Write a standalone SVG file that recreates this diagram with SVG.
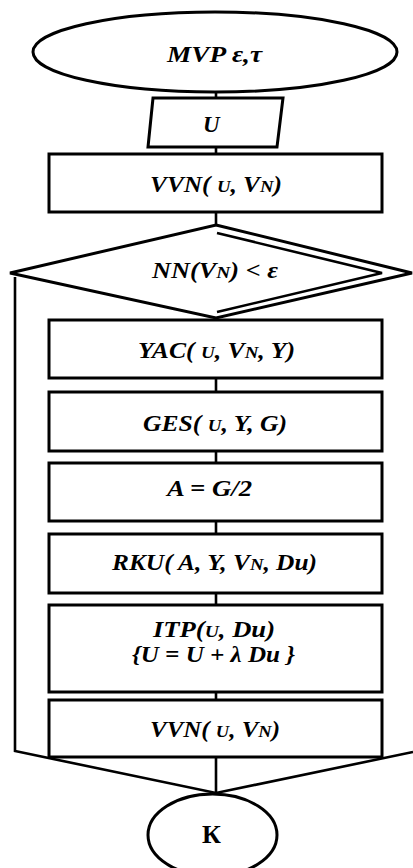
<svg xmlns="http://www.w3.org/2000/svg" width="413" height="868" viewBox="0 0 413 868">
<style>
.s{fill:#fff;stroke:#000;stroke-width:3}
.c{fill:none;stroke:#000;stroke-width:2.6}
.t{font-family:"Liberation Serif","Times New Roman",serif;font-weight:bold;font-style:italic;font-size:23px;fill:#000}
.sm{font-size:17px}
.k{font-family:"Liberation Serif","Times New Roman",serif;font-weight:bold;font-size:26px;fill:#000}
</style>
<rect width="413" height="868" fill="#fff"/>
<g id="connectors">
<line class="c" x1="216" y1="92" x2="216" y2="98"/>
<line class="c" x1="216" y1="147" x2="216" y2="154"/>
<line class="c" x1="216" y1="212" x2="216" y2="225"/>
<line class="c" x1="216" y1="378" x2="216" y2="392"/>
<line class="c" x1="216" y1="451" x2="216" y2="463"/>
<line class="c" x1="216" y1="521" x2="216" y2="534"/>
<line class="c" x1="216" y1="593" x2="216" y2="605"/>
<line class="c" x1="216" y1="692" x2="216" y2="700"/>
<line class="c" x1="216" y1="757" x2="216" y2="793"/>
<polyline class="c" points="15,277 15,751 216,793 413,752"/>
</g>
<g id="start">
<ellipse class="s" cx="215" cy="52" rx="182" ry="40"/>
<text class="t" x="167" y="62" font-size="21" textLength="95" lengthAdjust="spacingAndGlyphs">MVP ε,τ</text>
</g>
<g id="input">
<polygon class="s" points="153,98 283,98 277,147 148,147"/>
<text class="t" x="203" y="132" font-size="17">U</text>
</g>
<g id="vvn1">
<rect class="s" x="49" y="154" width="333" height="58"/>
<text class="t" x="150" y="192" textLength="132" lengthAdjust="spacingAndGlyphs">VVN( <tspan class="sm">U</tspan>, V<tspan class="sm">N</tspan>)</text>
</g>
<g id="decision">
<polygon class="s" points="216,225 412,273 216,318 10,273"/>
<polyline class="c" points="217,233 382,273 217,312"/>
<text class="t" x="152" y="278" textLength="126" lengthAdjust="spacingAndGlyphs">NN(V<tspan class="sm">N</tspan>) &lt; ε</text>
</g>
<g id="yac">
<rect class="s" x="49" y="320" width="333" height="58"/>
<text class="t" x="138" y="358" textLength="157" lengthAdjust="spacingAndGlyphs">YAC( <tspan class="sm">U</tspan>, V<tspan class="sm">N</tspan>, Y)</text>
</g>
<g id="ges">
<rect class="s" x="49" y="392" width="333" height="59"/>
<text class="t" x="143" y="431" textLength="144" lengthAdjust="spacingAndGlyphs">GES( <tspan class="sm">U</tspan>, Y, G)</text>
</g>
<g id="assign">
<rect class="s" x="49" y="463" width="333" height="58"/>
<text class="t" x="167" y="496" textLength="85" lengthAdjust="spacingAndGlyphs">A = G/2</text>
</g>
<g id="rku">
<rect class="s" x="49" y="534" width="333" height="59"/>
<text class="t" x="112" y="570" textLength="205" lengthAdjust="spacingAndGlyphs">RKU( A, Y, V<tspan class="sm">N</tspan>, Du)</text>
</g>
<g id="itp">
<rect class="s" x="49" y="605" width="333" height="87"/>
<text class="t" x="153" y="637" textLength="122" lengthAdjust="spacingAndGlyphs">ITP(<tspan class="sm">U</tspan>, Du)</text>
<text class="t" x="132" y="662" textLength="163" lengthAdjust="spacingAndGlyphs">{U = U + λ Du }</text>
</g>
<g id="vvn2">
<rect class="s" x="49" y="700" width="333" height="57"/>
<text class="t" x="150" y="737" textLength="130" lengthAdjust="spacingAndGlyphs">VVN( <tspan class="sm">U</tspan>, V<tspan class="sm">N</tspan>)</text>
</g>
<g id="end">
<ellipse class="s" cx="212.5" cy="835" rx="64.5" ry="41"/>
<text class="k" x="202" y="843">К</text>
</g>
</svg>
